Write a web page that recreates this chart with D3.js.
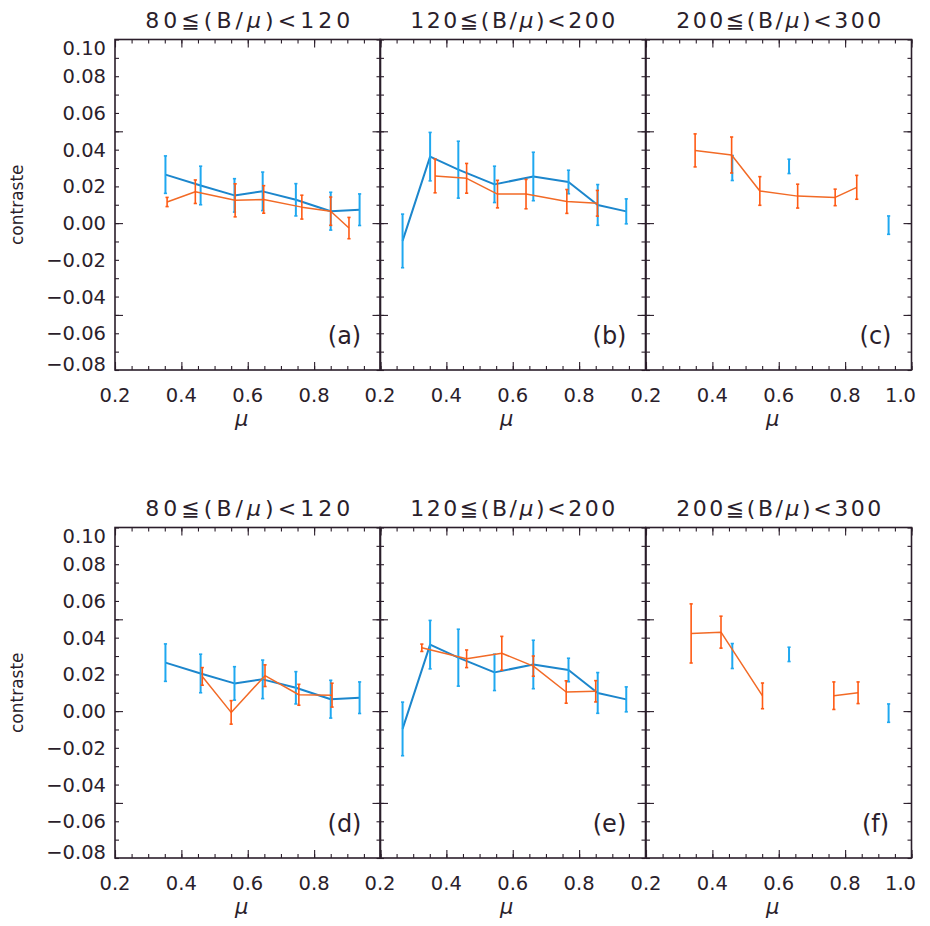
<!DOCTYPE html>
<html><head><meta charset="utf-8">
<script src="https://cdn.jsdelivr.net/npm/d3@7/dist/d3.min.js"></script>
<style>
body{margin:0;background:#fff;}
svg text{font-family:"DejaVu Sans","Liberation Sans",sans-serif;fill:#2b1e2b;}
</style></head>
<body><svg id="c" width="930" height="926"></svg>
<script>
// ---------- data ----------
const titles = ["80\u2266(B/", "120\u2266(B/", "200\u2266(B/"];
const titleTails = [")<120", ")<200", ")<300"];
const panelLabels = [["(a)","(b)","(c)"],["(d)","(e)","(f)"]];
const xTickLabels = [0.2, 0.4, 0.6, 0.8, 1.0];
const yTickLabels = [0.10, 0.08, 0.06, 0.04, 0.02, 0.00, -0.02, -0.04, -0.06, -0.08];

// blue series (same in both rows), per column
const blueMu1  = [0.352, 0.458, 0.560, 0.645, 0.745, 0.850, 0.937];
const blueVal1 = [0.0264, 0.0205, 0.0151, 0.0173, 0.0127, 0.0065, 0.0073];
const blueErr1 = [0.0102, 0.0105, 0.0091, 0.0105, 0.0088, 0.0103, 0.0086];

const blueMu2  = [0.268, 0.351, 0.436, 0.545, 0.662, 0.768, 0.856, 0.942];
const blueVal2 = [-0.0097, 0.0362, 0.0291, 0.0211, 0.0254, 0.0224, 0.0099, 0.0064];
const blueErr2 = [0.0146, 0.0132, 0.0155, 0.0099, 0.0132, 0.0064, 0.0111, 0.0068];

const blueMu3  = [0.350, 0.460, 0.550, 0.631, 0.750, 0.840, 0.931];
const blueVal3 = [null, 0.0300, null, 0.0309, null, null, -0.0011];
const blueErr3 = [null, 0.0068, null, 0.0039, null, null, 0.0050];

// orange series, per panel
const orangeMuA  = [0.357, 0.442, 0.562, 0.648, 0.763, 0.850, 0.905];
const orangeValA = [0.0115, 0.0171, 0.0124, 0.0129, 0.0087, 0.0065, -0.0027];
const orangeErrA = [0.0025, 0.0064, 0.0090, 0.0075, 0.0065, 0.0077, 0.0058];

const orangeMuB  = [0.366, 0.461, 0.554, 0.640, 0.763, 0.855];
const orangeValB = [0.0257, 0.0244, 0.0158, 0.0158, 0.0118, 0.0108];
const orangeErrB = [0.0092, 0.0081, 0.0075, 0.0080, 0.0065, 0.0070];

const orangeMuC  = [0.348, 0.458, 0.543, 0.657, 0.770, 0.835];
const orangeValC = [0.0396, 0.0371, 0.0175, 0.0147, 0.0140, 0.0195];
const orangeErrC = [0.0090, 0.0098, 0.0078, 0.0065, 0.0045, 0.0065];

const orangeMuD  = [0.463, 0.550, 0.652, 0.754, 0.854];
const orangeValD = [0.0189, -0.0007, 0.0193, 0.0089, 0.0087];
const orangeErrD = [0.0048, 0.0064, 0.0059, 0.0057, 0.0065];

const orangeMuE  = [0.326, 0.461, 0.567, 0.662, 0.761, 0.850];
const orangeValE = [0.0345, 0.0285, 0.0315, 0.0245, 0.0104, 0.0108];
const orangeErrE = [0.0020, 0.0048, 0.0092, 0.0055, 0.0061, 0.0058];

const orangeMuF  = [0.336, 0.426, 0.551, 0.660, 0.766, 0.839];
const orangeValF = [0.0423, 0.0430, 0.0083, null, 0.0084, 0.0100];
const orangeErrF = [0.0161, 0.0087, 0.0070, null, 0.0075, 0.0059];

const blue = [[blueMu1,blueVal1,blueErr1],[blueMu2,blueVal2,blueErr2],[blueMu3,blueVal3,blueErr3]];
const orange = [
  [[orangeMuA,orangeValA,orangeErrA],[orangeMuB,orangeValB,orangeErrB],[orangeMuC,orangeValC,orangeErrC]],
  [[orangeMuD,orangeValD,orangeErrD],[orangeMuE,orangeValE,orangeErrE],[orangeMuF,orangeValF,orangeErrF]]
];

// ---------- layout ----------
const colX = [115, 380, 646];
const W = 265.5, H = 330.5;
const rowY = [39.5, 527.5];
const ink = "#2b1e2b";
const blueLine = "#1c86cc", blueBar = "#1fa8f0";
const orLine = "#f26a26", orBar = "#ff5a14";

const svg = d3.select("#c");
const xMinor = d3.range(0, 17).map(i => +(0.2 + i*0.05).toFixed(3));
const xMajor = [0.2,0.4,0.6,0.8,1.0];
const yMinor = d3.range(0, 19).map(i => +(-0.08 + i*0.01).toFixed(3));
const yMajor = [-0.05, 0, 0.05];

function toPts(s){ return s[0].map((m,i)=>({m, v:s[1][i], e:s[2][i]})); }

rowY.forEach((y0, r) => {
  colX.forEach((x0, c) => {
    const x = d3.scaleLinear([0.2, 1.0], [x0, x0 + W]);
    const y = d3.scaleLinear([-0.08, 0.10], [y0 + H, y0]);
    const g = svg.append("g");

    const mk = (axis, tr, vals, len) => g.append("g").attr("transform", tr)
      .call(axis.tickValues(vals).tickSize(len).tickFormat("").tickSizeOuter(0))
      .call(s => { s.select(".domain").remove(); s.selectAll("line").attr("stroke", ink).attr("stroke-width", 1.1); });
    mk(d3.axisBottom(x), `translate(0,${y0+H})`, xMinor, -4);
    mk(d3.axisBottom(x), `translate(0,${y0+H})`, xMajor, -8);
    mk(d3.axisTop(x), `translate(0,${y0})`, xMinor, -4);
    mk(d3.axisTop(x), `translate(0,${y0})`, xMajor, -8);
    mk(d3.axisLeft(y), `translate(${x0},0)`, yMinor, -4);
    mk(d3.axisLeft(y), `translate(${x0},0)`, yMajor, -8);
    mk(d3.axisRight(y), `translate(${x0+W},0)`, yMinor, -4);
    mk(d3.axisRight(y), `translate(${x0+W},0)`, yMajor, -8);

    g.append("rect").attr("x", x0).attr("y", y0).attr("width", W).attr("height", H)
      .attr("fill", "none").attr("stroke", ink).attr("stroke-width", 1.6);

    const xl = c === 2 ? xTickLabels : xTickLabels.slice(0, 4);
    g.selectAll(".xl").data(xl).join("text")
      .attr("x", d => x(d) - (d === 1.0 ? 11 : 0)).attr("y", y0 + H + 32)
      .attr("text-anchor", "middle").attr("font-size", 19.5).text(d => d.toFixed(1));
    g.append("text").attr("x", (x0 + W/2) - 6).attr("y", y0 + H + 56)
      .attr("text-anchor", "middle").attr("font-size", 21).attr("font-style", "italic").text("\u03bc");

    if (c === 0) {
      g.selectAll(".yl").data(yTickLabels).join("text")
        .attr("x", x0 - 9)
        .attr("y", d => Math.min(Math.max(y(d), y0 + 8), y0 + H - 6) + 7)
        .attr("text-anchor", "end").attr("font-size", 19.5)
        .text(d => (d < 0 ? "\u2212" : "") + Math.abs(d).toFixed(2));
      g.append("text").attr("transform", `translate(23,${y0 + H/2}) rotate(-90)`)
        .attr("text-anchor", "middle").attr("font-size", 17).text("contraste");
    }

    const t = g.append("text").attr("x", x0 + W/2).attr("y", y0 - 12)
      .attr("text-anchor", "middle").attr("font-size", 22)
      .attr("textLength", 205).attr("lengthAdjust", "spacing");
    t.append("tspan").text(titles[c]);
    t.append("tspan").attr("font-style", "italic").text("\u03bc");
    t.append("tspan").text(titleTails[c]);

    g.append("text").attr("x", x0 + W - 36).attr("y", y0 + H - 26)
      .attr("text-anchor", "middle").attr("font-size", 24).text(panelLabels[r][c]);

    const line = d3.line().defined(d => d.v !== null).x(d => x(d.m)).y(d => y(d.v));
    const drawSeries = (pts, lc, bc, lw, bw) => {
      g.append("path").datum(pts).attr("d", line).attr("fill", "none")
        .attr("stroke", lc).attr("stroke-width", lw).attr("stroke-linejoin", "round");
      const ok = pts.filter(d => d.v !== null);
      g.selectAll(null).data(ok).join("line")
        .attr("x1", d => x(d.m)).attr("x2", d => x(d.m))
        .attr("y1", d => y(d.v + d.e)).attr("y2", d => y(d.v - d.e))
        .attr("stroke", bc).attr("stroke-width", bw);
      [1, -1].forEach(sg => {
        g.selectAll(null).data(ok).join("line")
          .attr("x1", d => x(d.m) - 1.6).attr("x2", d => x(d.m) + 1.6)
          .attr("y1", d => y(d.v + sg*d.e)).attr("y2", d => y(d.v + sg*d.e))
          .attr("stroke", bc).attr("stroke-width", 1.6);
      });
    };
    drawSeries(toPts(blue[c]), blueLine, blueBar, 2, 2);
    drawSeries(toPts(orange[r][c]), orLine, orBar, 1.5, 1.6);
  });
});
</script></body></html>
